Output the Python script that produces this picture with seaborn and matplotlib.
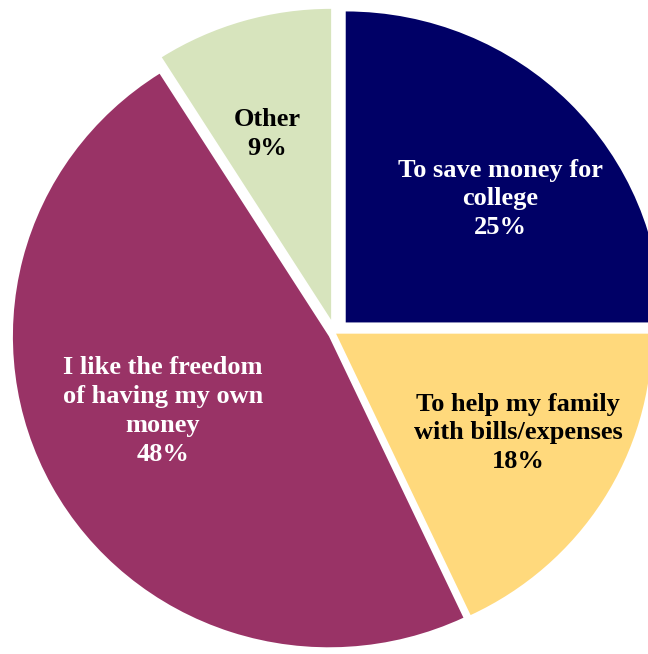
import matplotlib
matplotlib.use("Agg")
import matplotlib.pyplot as plt
import seaborn as sns

# Survey: main reason for working
categories = [
    "To save money for\ncollege",
    "To help my family\nwith bills/expenses",
    "I like the freedom\nof having my own\nmoney",
    "Other",
]
shares = [25, 18, 48, 9]
colors = ["#000066", "#FFD97C", "#993366", "#D7E4BD"]
text_colors = ["white", "black", "white", "black"]
explode = [0.048, 0.004, 0.022, 0.044]

# label block centres, in figure pixels (x from left, y from top)
label_xy = [(500, 199), (518, 433), (163, 411), (267, 134)]

sns.set_theme(style="white")
plt.rcParams["font.family"] = ["Liberation Serif", "DejaVu Serif"]

W, H = 648, 654
fig = plt.figure(figsize=(W / 100, H / 100), dpi=100)
ax = fig.add_axes([0, 0, 1, 1])

ax.pie(
    shares,
    colors=colors,
    explode=explode,
    startangle=90,
    counterclock=False,
    radius=1.0,
    wedgeprops=dict(linewidth=0),
)

# pie centre sits at (335, 333) px, horizontal radius 316 px, vertical 311 px
cx, cy, rx, ry = 335, 333, 316, 311
ax.set_aspect("auto")
ax.set_xlim(-cx / rx, (W - cx) / rx)
ax.set_ylim(-(H - cy) / ry, cy / ry)
ax.axis("off")

for cat, val, tc, (px, py) in zip(categories, shares, text_colors, label_xy):
    fig.text(
        px / W, 1 - py / H, f"{cat}\n{val}%",
        ha="center", va="center", color=tc,
        fontsize=19, fontweight="bold", linespacing=1.33,
        multialignment="center",
    )

fig.savefig("out.png", dpi=100, facecolor="white")
